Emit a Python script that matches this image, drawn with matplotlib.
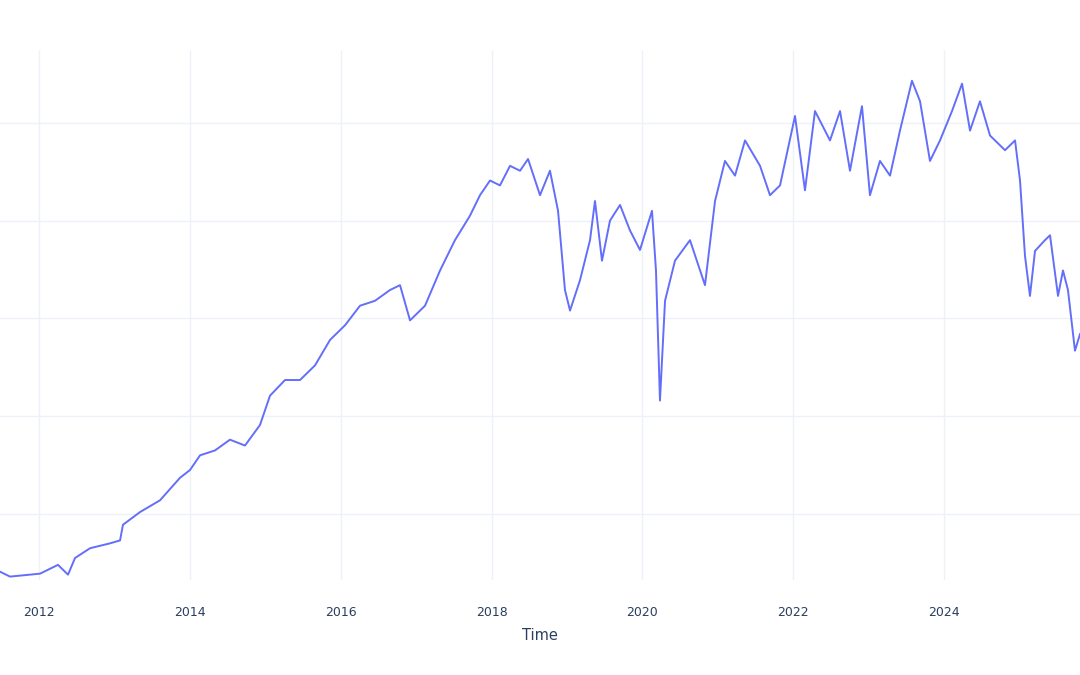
import matplotlib
matplotlib.use("Agg")
import matplotlib.pyplot as plt

px = [0,10,40,58,68,75,90,110,120,123,140,160,180,190,200,215,230,245,260,270,285,300,315,330,345,360,375,390,400,410,425,440,455,470,480,490,500,510,520,528,540,550,558,565,570,580,590,595,602,610,620,630,640,652,656,660,665,675,690,705,715,725,735,745,760,770,780,795,805,815,830,840,850,862,870,880,890,900,912,920,930,940,952,962,970,980,990,1005,1015,1020,1025,1030,1035,1045,1050,1058,1063,1068,1075,1080]
years = [round(2011.48 + p/75.4, 3) for p in px]
values = [41,36,39,48,38,55,65,70,73,89,102,114,137,145,160,165,176,170,191,221,237,237,252,278,293,313,318,329,334,298,313,349,380,405,426,441,436,456,451,463,426,451,410,329,308,339,380,420,359,400,416,390,370,410,349,216,318,359,380,334,420,461,446,482,456,426,436,507,431,512,482,512,451,517,426,461,446,492,543,522,461,482,512,540,492,522,487,472,482,441,364,323,369,380,385,323,349,329,267,284]
xticks = [2012,2014,2016,2018,2020,2022,2024]

fig = plt.figure(figsize=(10.8,6.75), dpi=100)
ax = fig.add_axes([0,0.141,1,0.785])
ax.plot(years, values, color="#636efa", lw=1.4)
ax.set_xlim(2011.48, 2011.48+1080/75.4)
ax.set_ylim(32.7, 574.5)
ax.set_yticks([100,200,300,400,500])
ax.set_yticklabels([])
ax.tick_params(axis="y", length=0)
ax.set_xticks(xticks)
ax.set_xticklabels([str(t) for t in xticks], color="#2a3f5f", fontsize=9)
ax.tick_params(axis="x", length=0, pad=19)
ax.grid(color="#eef1f7", lw=1)
ax.set_axisbelow(True)
for s in ax.spines.values():
    s.set_visible(False)
ax.set_xlabel("Time", color="#2a3f5f", fontsize=10.5, labelpad=6)
fig.savefig("out.png")
